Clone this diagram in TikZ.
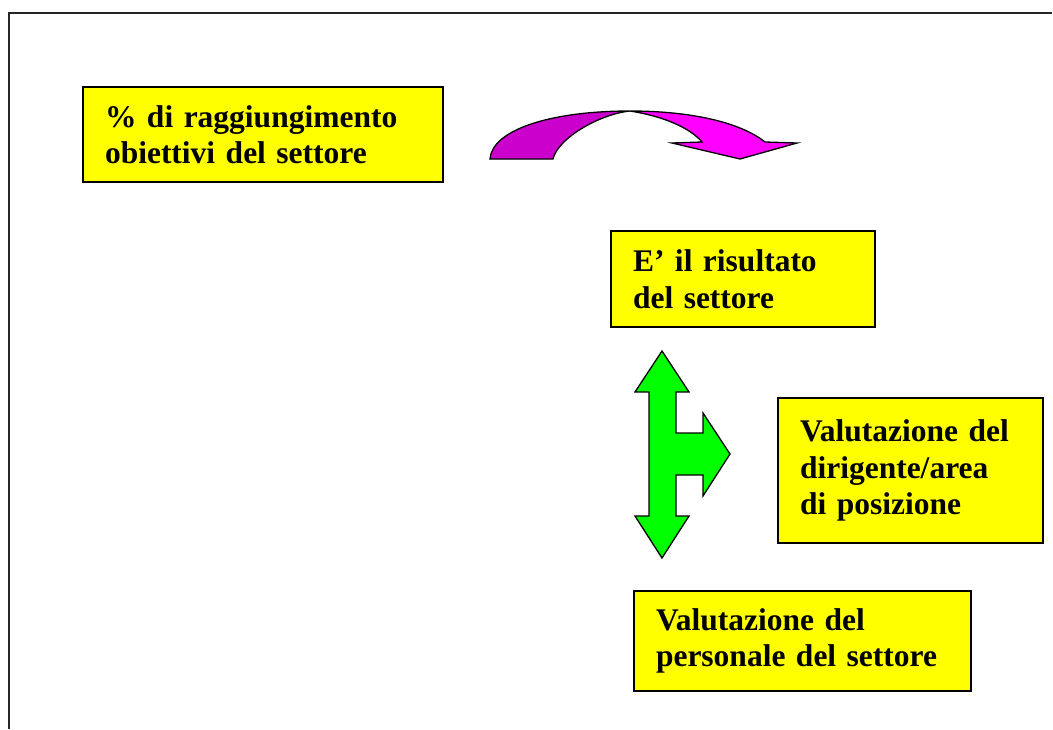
\documentclass[tikz,border=0pt]{standalone}
\usepackage{fontspec}
\setmainfont{Liberation Serif}
\usetikzlibrary{positioning}

\definecolor{boxyellow}{RGB}{255,255,0}
\definecolor{darkpink}{RGB}{204,0,204}
\definecolor{lightpink}{RGB}{255,0,255}
\definecolor{arrowgreen}{RGB}{0,255,0}

\begin{document}
\begin{tikzpicture}[x=1pt, y=-1pt]
\useasboundingbox (0,0) rectangle (1053,729);

\begin{scope}
    \draw[line width=1.8pt, black!85] (9,729) -- (9,13) -- (1052,13);
\end{scope}

\begin{scope}[every node/.style={draw, fill=boxyellow, line width=1.5pt,
              inner xsep=22pt, inner ysep=0pt, outer sep=0pt, align=left,
              font=\fontsize{31.5}{36.5}\selectfont\bfseries}]
  \node[text width=316pt, minimum height=95pt] (obiettivi) at (263,134.5)
    {\% di raggiungimento\\obiettivi del settore};
  \node[text width=220pt, minimum height=96pt] (risultato) at (743,279)
    {E' il risultato\\del settore};
  \node[text width=221pt, minimum height=145pt] (dirigente) at (910.5,470.5)
    {Valutazione del\\dirigente/area\\di posizione};
  \node[text width=293pt, minimum height=100pt] (personale) at (802.5,641)
    {Valutazione del\\personale del settore};
\end{scope}

\begin{scope}[line width=1.3pt, line join=miter]
    % curved arrow
    \filldraw[fill=darkpink] (490,159) .. controls (492,130) and (550,111) .. (630,111)
        .. controls (600,114) and (558,138) .. (553,159) -- cycle;
    \filldraw[fill=lightpink] (630,111) .. controls (690,111) and (740,122) .. (765,142)
        -- (797,143) -- (740,159) -- (672,143) -- (702,142)
        .. controls (692,130) and (668,117) .. (630,111) -- cycle;
    % three-way arrow
    \filldraw[fill=arrowgreen] (662,351) -- (689,392) -- (676,392) -- (676,433)
        -- (703,433) -- (703,413) -- (730,454) -- (703,496) -- (703,475)
        -- (676,475) -- (676,516) -- (689,516) -- (662,558) -- (635,516)
        -- (649,516) -- (649,392) -- (635,392) -- cycle;
\end{scope}
\end{tikzpicture}
\end{document}
